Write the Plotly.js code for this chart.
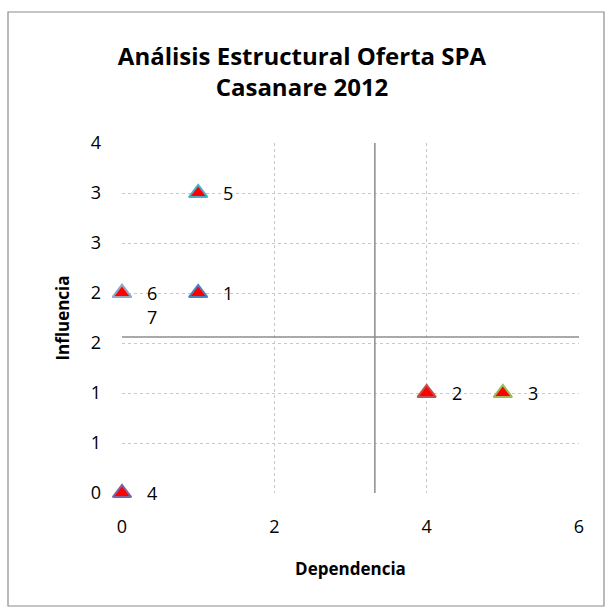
<!DOCTYPE html>
<html>
<head>
<meta charset="utf-8">
<script src="https://cdn.plot.ly/plotly-3.0.1.min.js"></script>
<style>html,body{margin:0;padding:0;background:#fff;}</style>
</head>
<body>
<div id="chart" style="width:606px;height:609px;"></div>
<script>
const labels = ["1", "2", "3", "4", "5", "6", "7"];
const dependencia = [1, 4, 5, 0, 1, 0, 0];
const influencia = [2, 1, 1, 0, 3, 2, 2];
const outlineColors = ["#4F81BD", "#C0504D", "#9BBB59", "#8064A2", "#4BACC6", "#95A7C6", "#95A7C6"];
const yTickVals = [0, 0.5, 1, 1.5, 2, 2.5, 3, 3.5];
const yTickText = ["0", "1", "1", "2", "2", "3", "3", "4"];
const xTickVals = [0, 2, 4, 6];
const crossX = 3.32;
const crossY = 1.56;

const FONT = 'Open Sans, sans-serif';

const traces = labels.map((lab, i) => ({
  type: 'scatter',
  mode: 'markers',
  x: [dependencia[i]],
  y: [influencia[i]],
  name: lab,
  marker: {symbol: 'triangle-up', size: 16, color: '#FF0000', line: {color: outlineColors[i], width: 2}},
  cliponaxis: false,
  showlegend: false
}));

const annotations = labels.map((lab, i) => ({
  x: dependencia[i], y: influencia[i], xref: 'x', yref: 'y',
  text: lab, showarrow: false, xanchor: 'left',
  xshift: 23, yshift: lab === "7" ? -24 : 0,
  font: {family: FONT, size: 18, color: '#000'}
}));

const W = 606, H = 609, L = 122, R = 27, T = 143, B = 116;
const pw = W - L - R, ph = H - T - B;
const px = p => (p - L) / pw;
const py = p => (H - B - p) / ph;

const layout = {
  width: W, height: H,
  margin: {l: L, r: R, t: T, b: B},
  paper_bgcolor: '#fff', plot_bgcolor: '#fff',
  title: {text: '<b>Análisis Estructural Oferta SPA<br>Casanare 2012</b>', x: 302 / W, xref: 'container', xanchor: 'center',
    y: 1 - 65 / H, yref: 'container', yanchor: 'top',
    font: {family: FONT, size: 24, color: '#000'}},
  xaxis: {range: [0, 6], tickvals: xTickVals, showgrid: true, gridcolor: '#C8C8C8', griddash: 'dot', gridwidth: 1,
    zeroline: false, showline: false, ticks: '', ticklabelstandoff: 21, tickfont: {family: FONT, size: 18, color: '#000'},
    title: {text: '<b>Dependencia</b>', font: {family: FONT, size: 17, color: '#000'}, standoff: 26}},
  yaxis: {range: [0, 3.5], tickvals: yTickVals, ticktext: yTickText, showgrid: true, gridcolor: '#C8C8C8', griddash: 'dot', gridwidth: 1,
    zeroline: false, showline: false, ticks: '', ticklabelstandoff: 20, tickfont: {family: FONT, size: 18, color: '#000'},
    title: {text: '<b>Influencia</b>', font: {family: FONT, size: 17, color: '#000'}, standoff: 16}},
  shapes: [
    {type: 'line', xref: 'x', yref: 'paper', x0: crossX, x1: crossX, y0: 0, y1: 1, line: {color: '#8C8C8C', width: 1.5}},
    {type: 'line', xref: 'paper', yref: 'y', x0: 0, x1: 1, y0: crossY, y1: crossY, line: {color: '#8C8C8C', width: 1.5}},
    {type: 'rect', xref: 'paper', yref: 'paper', x0: px(8), x1: px(604), y0: py(12), y1: py(606), line: {color: '#8C8C8C', width: 1.2}, fillcolor: 'rgba(0,0,0,0)', layer: 'below'}
  ],
  annotations: annotations,
  showlegend: false
};

Plotly.newPlot('chart', traces, layout, {displayModeBar: false, staticPlot: true});
</script>
</body>
</html>
